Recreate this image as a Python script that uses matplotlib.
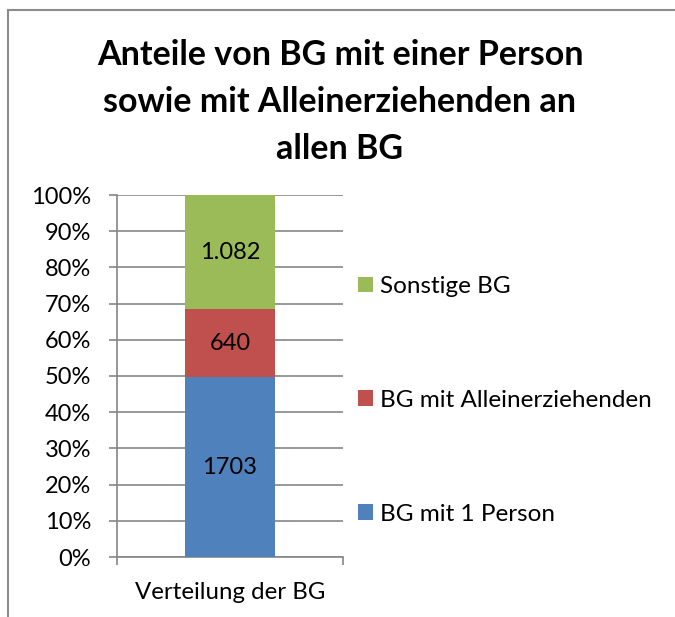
import matplotlib
matplotlib.use("Agg")
import matplotlib.pyplot as plt
from matplotlib.patches import Patch

plt.rcParams['font.family'] = ['Lato', 'DejaVu Sans']

category = ["Verteilung der BG"]
series_names = ["BG mit 1 Person", "BG mit Alleinerziehenden", "Sonstige BG"]
series_values = [1703, 640, 1082]
series_labels = ["1703", "640", "1.082"]
series_colors = ["#4F81BD", "#C0504D", "#9BBB59"]
yticks = [0, 10, 20, 30, 40, 50, 60, 70, 80, 90, 100]
ytick_labels = [f"{v}%" for v in yticks]
title = "Anteile von BG mit einer Person\nsowie mit Alleinerziehenden an\nallen BG"

total = sum(series_values)
shares = [v / total * 100 for v in series_values]

fig = plt.figure(figsize=(6.75, 6.17), dpi=100)
ax = fig.add_axes([117/675, 1-557/617, (343-117)/675, (557-195)/617])

grid_color = "#868686"
bottom = 0
for name, val, lab, col in zip(series_names, shares, series_labels, series_colors):
    ax.bar(0, val, width=0.4, bottom=bottom, color=col, label=name, zorder=3)
    ax.text(0, bottom + val / 2, lab, ha="center", va="center", fontsize=17, color="black", zorder=4)
    bottom += val

ax.set_xlim(-0.5, 0.5)
ax.set_ylim(0, 100)
ax.set_yticks(yticks)
ax.set_yticklabels(ytick_labels, fontsize=17)
ax.yaxis.grid(True, color=grid_color, linewidth=1.2, zorder=0)
ax.set_xticks([-0.5, 0.5])
ax.set_xticklabels(["", ""])
ax.tick_params(axis="y", length=6, width=1.2, color=grid_color, pad=12.5)
ax.tick_params(axis="x", length=6, width=1.2, color=grid_color)
ax.text(0, -0.098, category[0], transform=ax.get_xaxis_transform(), ha="center", va="center", fontsize=17.3)

for s in ["top", "right"]:
    ax.spines[s].set_visible(False)
for s in ["left", "bottom"]:
    ax.spines[s].set_color(grid_color)
    ax.spines[s].set_linewidth(1.2)

fig.text(340/675, 1-102/617, title, ha="center", va="center", fontsize=24.5,
         fontweight="bold", linespacing=1.56)

handles = [Patch(facecolor=c) for c in series_colors][::-1]
fig.legend(handles, series_names[::-1], loc="upper left",
           bbox_to_anchor=(358/675, 1-276/617), frameon=False, fontsize=17.5,
           handlelength=0.62, handleheight=0.62, handletextpad=0.3,
           labelspacing=3.82, borderpad=0, borderaxespad=0)

# outer frame lines
fig.add_artist(plt.Line2D([7.5/675, 7.5/675], [0, 1-10/617], transform=fig.transFigure, color="#8c8c8c", linewidth=1.5))
fig.add_artist(plt.Line2D([7.5/675, 1], [1-10/617, 1-10/617], transform=fig.transFigure, color="#8c8c8c", linewidth=1.5))

fig.savefig("out.png", dpi=100)
